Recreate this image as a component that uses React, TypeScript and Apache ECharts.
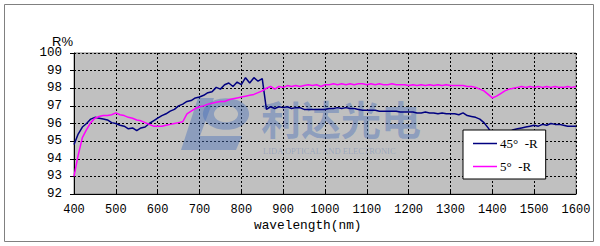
import React, { useEffect, useRef } from "react";
import * as echarts from "echarts";

const wavelengths: number[] = [];
for (let w = 400; w <= 1600; w += 10) wavelengths.push(w);

const r45: number[] = [
  94.8, 95.4, 95.8, 96.0, 96.25, 96.35, 96.3, 96.25, 96.2, 96.05,
  96.0, 95.9, 95.85, 95.7, 95.75, 95.6, 95.75, 95.8, 96.0, 96.15,
  96.3, 96.45, 96.55, 96.7, 96.8, 97.0, 97.1, 97.25, 97.3, 97.45,
  97.5, 97.6, 97.75, 97.8, 98.05, 97.95, 98.2, 98.3, 98.1, 98.35,
  98.2, 98.6, 98.3, 98.6, 98.4, 98.55, 96.8, 96.95, 96.85, 96.95,
  96.9, 96.95, 96.85, 96.9, 96.9, 96.8, 96.8, 96.8, 96.8, 96.8,
  96.8, 96.85, 96.85, 96.9, 96.85, 96.9, 96.85, 96.85, 96.8, 96.75,
  96.75, 96.75, 96.75, 96.7, 96.7, 96.7, 96.7, 96.7, 96.65, 96.65,
  96.65, 96.65, 96.6, 96.6, 96.65, 96.6, 96.6, 96.55, 96.6, 96.55,
  96.55, 96.55, 96.5, 96.6, 96.45, 96.4, 96.35, 96.25, 96.05, 95.75,
  95.4, 95.2, 95.15, 95.3, 95.5, 95.65, 95.7, 95.75, 95.8, 95.85,
  95.9, 95.85, 95.95, 95.9, 96.0, 95.95, 95.95, 95.9, 95.85, 95.85,
  95.85,
];

const r5: number[] = [
  93.0, 94.2, 95.2, 95.65, 96.05, 96.3, 96.4, 96.45, 96.45, 96.5,
  96.6, 96.5, 96.45, 96.35, 96.3, 96.2, 96.15, 96.05, 95.95, 95.85,
  95.85, 95.85, 95.9, 95.95, 96.0, 96.05, 96.1, 96.55, 96.7, 96.85,
  96.95, 97.0, 97.1, 97.15, 97.2, 97.25, 97.25, 97.35, 97.4, 97.45,
  97.5, 97.55, 97.6, 97.65, 97.75, 97.85, 98.0, 98.1, 97.95, 98.1,
  98.05, 98.15, 98.1, 98.15, 98.1, 98.15, 98.2, 98.15, 98.2, 98.1,
  98.2, 98.2, 98.25, 98.2, 98.25, 98.2, 98.25, 98.2, 98.25, 98.25,
  98.2, 98.25, 98.2, 98.25, 98.2, 98.2, 98.25, 98.2, 98.2, 98.2,
  98.15, 98.2, 98.15, 98.2, 98.15, 98.2, 98.15, 98.2, 98.15, 98.2,
  98.15, 98.15, 98.15, 98.15, 98.1, 98.1, 98.05, 97.95, 97.85, 97.65,
  97.45, 97.55, 97.7, 97.85, 97.95, 98.0, 98.05, 98.1, 98.05, 98.1,
  98.05, 98.1, 98.05, 98.1, 98.05, 98.1, 98.05, 98.05, 98.1, 98.05,
  98.1,
];

const seriesNames = ["45°  -R", "5°  -R"];
const seriesColors = ["#000080", "#ff00ff"];
const xTicks = { min: 400, max: 1600, interval: 100 };
const yTicks = { min: 92, max: 100, interval: 1 };

const mono = "'Liberation Mono', 'DejaVu Sans Mono', monospace";
const wmColor = "rgba(70,110,185,0.42)";

export default function App() {
  const ref = useRef<HTMLDivElement>(null);
  useEffect(() => {
    document.body.style.margin = "0";
    const chart = echarts.init(ref.current!, undefined, { renderer: "svg" });
    const mk = (arr: number[]) => wavelengths.map((w, i) => [w, arr[i]]);
    chart.setOption({
      animation: false,
      backgroundColor: "#ffffff",
      grid: {
        left: 74,
        top: 53,
        right: 24,
        bottom: 52,
        show: true,
        backgroundColor: "#c0c0c0",
        borderColor: "#808080",
        borderWidth: 1,
      },
      xAxis: {
        type: "value",
        min: xTicks.min,
        max: xTicks.max,
        interval: xTicks.interval,
        axisLine: { show: true, onZero: false, lineStyle: { color: "#000", width: 1 } },
        axisTick: { show: true, inside: true, length: 3, lineStyle: { color: "#000" } },
        axisLabel: {
          fontFamily: mono,
          fontSize: 12,
          color: "#000",
          margin: 10,
          formatter: (v: number) => String(v),
        },
        splitLine: { show: true, lineStyle: { color: "#000", type: [2, 2], width: 1 } },
      },
      yAxis: {
        type: "value",
        min: yTicks.min,
        max: yTicks.max,
        interval: yTicks.interval,
        axisLine: { show: true, lineStyle: { color: "#000", width: 1 } },
        axisTick: { show: true, length: 4, lineStyle: { color: "#000" } },
        axisLabel: {
          fontFamily: mono,
          fontSize: 12.5,
          color: "#000",
          margin: 12,
          formatter: (v: number) => String(v),
        },
        splitLine: { show: true, lineStyle: { color: "#000", type: [2, 2], width: 1 } },
      },
      legend: {
        orient: "vertical",
        left: 463,
        top: 130,
        padding: [7, 8, 6, 10],
        itemWidth: 24,
        itemHeight: 14,
        itemGap: 10,
        icon: "path://M0 0 H24 V1.5 H0 Z",
        backgroundColor: "#ffffff",
        borderColor: "#000000",
        borderWidth: 1,
        borderRadius: 0,
        textStyle: { fontFamily: "'Liberation Serif', serif", fontSize: 13, color: "#000", padding: [0, 0, 0, -2] },
        data: seriesNames,
      },
      graphic: [
        {
          type: "rect",
          z: -10,
          shape: { x: 4.5, y: 4.5, width: 589, height: 237 },
          style: { fill: "none", stroke: "#808080", lineWidth: 1 },
        },
        {
          type: "text",
          left: 52,
          top: 35,
          style: { text: "R%", fontFamily: "'Liberation Sans', sans-serif", fontSize: 13, fill: "#000" },
        },
        {
          type: "text",
          left: 254,
          top: 219,
          style: { text: "wavelength(nm)", fontFamily: mono, fontSize: 12.8, fill: "#000" },
        },
        {
          type: "polygon",
          z: 1,
          shape: { points: [[198, 98], [214, 98], [200, 136], [242, 136], [236, 150], [181, 150]] },
          style: { fill: wmColor },
        },
        {
          type: "ring",
          z: 1,
          x: 226,
          y: 114,
          scaleX: 1.1,
          scaleY: 0.75,
          shape: { cx: 0, cy: 0, r: 21, r0: 11 },
          style: { fill: wmColor },
        },
        {
          type: "text",
          z: 1,
          left: 261,
          top: 98,
          style: {
            text: "利达光电",
            fontFamily: "'Noto Sans CJK SC', sans-serif",
            fontWeight: "bold",
            fontSize: 40,
            lineHeight: 40,
            fill: wmColor,
          },
        },
        {
          type: "text",
          z: 1,
          left: 263,
          top: 146,
          style: {
            text: "LIDA OPTICAL AND ELECTRONIC",
            fontFamily: "'Liberation Serif', serif",
            fontSize: 8.5,
            lineHeight: 9,
            fill: "rgba(70,110,185,0.3)",
          },
        },
      ],
      series: [
        {
          name: seriesNames[0],
          type: "line",
          data: mk(r45),
          symbol: "none",
          z: 3,
          color: seriesColors[0],
          lineStyle: { color: seriesColors[0], width: 1.5 },
        },
        {
          name: seriesNames[1],
          type: "line",
          data: mk(r5),
          symbol: "none",
          z: 3,
          color: seriesColors[1],
          lineStyle: { color: seriesColors[1], width: 1.5 },
        },
      ],
    });
    return () => chart.dispose();
  }, []);
  return (
    <div
      ref={ref}
      style={{ position: "fixed", left: 0, top: 0, width: 600, height: 246 }}
    />
  );
}
